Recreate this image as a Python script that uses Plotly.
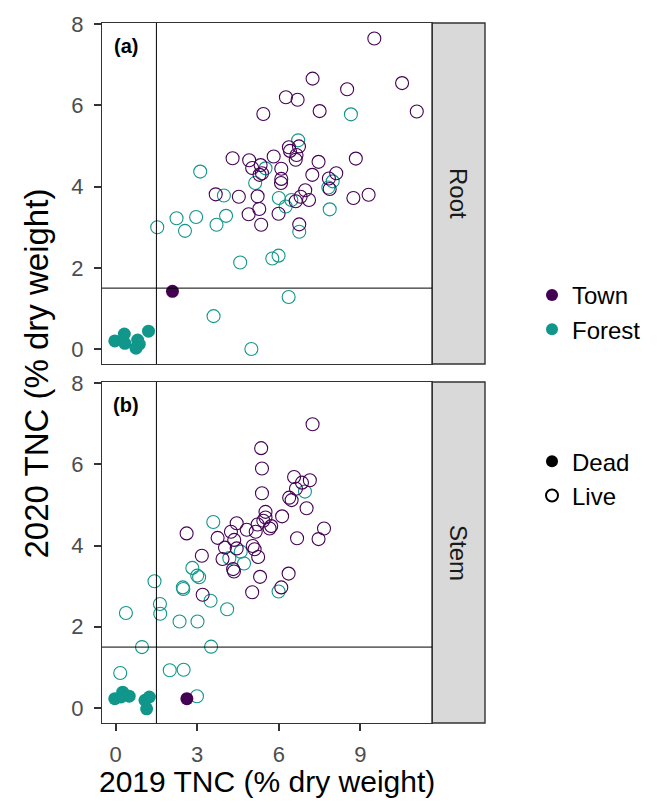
import plotly.graph_objects as go
from plotly.subplots import make_subplots

# ---------------- data ----------------
panels = ["Root", "Stem"]
panel_tags = ["(a)", "(b)"]
x_ticks = [0, 3, 6, 9]
y_ticks = [0, 2, 4, 6, 8]

# Root panel
root_town_live_x = [9.51, 7.24, 10.53, 8.51, 6.26, 6.69, 5.43, 7.50, 11.07, 6.37, 6.74, 6.41, 6.65, 6.62,
                    4.30, 4.91, 5.81, 5.33, 5.02, 5.38, 5.29, 6.09, 6.09, 7.46, 8.83, 7.23, 8.11, 7.84,
                    6.08, 3.68, 4.53, 5.22, 6.62, 6.80, 6.97, 7.11, 5.28, 4.89, 5.99, 8.74, 9.30, 7.87,
                    5.35, 6.75]
root_town_live_y = [7.65, 6.66, 6.55, 6.40, 6.20, 6.14, 5.79, 5.86, 5.85, 4.97, 4.99, 4.88, 4.78, 4.66,
                    4.70, 4.65, 4.74, 4.53, 4.46, 4.33, 4.29, 4.44, 4.19, 4.61, 4.69, 4.29, 4.33, 4.20,
                    4.09, 3.81, 3.75, 3.76, 3.64, 3.75, 3.91, 3.67, 3.45, 3.32, 3.33, 3.72, 3.80, 3.94,
                    3.06, 3.07]
root_forest_live_x = [8.65, 6.71, 5.51, 3.11, 7.98, 5.13, 7.82, 3.98, 6.00, 6.46, 6.25, 7.87, 2.24, 2.96,
                      4.06, 1.53, 2.55, 3.71, 6.75, 4.58, 5.76, 5.99, 6.36, 3.60, 4.99]
root_forest_live_y = [5.78, 5.14, 4.45, 4.37, 4.13, 4.09, 3.98, 3.78, 3.72, 3.67, 3.51, 3.44, 3.22, 3.25,
                      3.28, 3.00, 2.91, 3.06, 2.89, 2.13, 2.23, 2.30, 1.28, 0.81, 0.00]
root_town_dead_x = [2.09]
root_town_dead_y = [1.42]
root_forest_dead_x = [-0.03, 0.32, 0.34, 0.81, 0.87, 0.75, 1.21]
root_forest_dead_y = [0.20, 0.37, 0.14, 0.22, 0.12, 0.02, 0.44]

# Stem panel
stem_town_live_x = [7.24, 5.35, 5.38, 6.56, 7.14, 6.85, 6.63, 5.38, 6.38, 6.47, 7.02, 5.51, 6.12, 5.51,
                    5.43, 5.22, 5.72, 5.66, 4.45, 4.82, 5.15, 2.61, 4.24, 3.75, 4.36, 7.66, 7.46, 6.67,
                    4.02, 4.45, 5.04, 5.11, 3.17, 5.24, 3.93, 4.32, 4.35, 5.31, 6.36, 6.09, 5.02, 3.20]
stem_town_live_y = [6.99, 6.40, 5.90, 5.69, 5.61, 5.55, 5.40, 5.29, 5.18, 5.12, 4.92, 4.83, 4.72, 4.69,
                    4.61, 4.52, 4.48, 4.42, 4.55, 4.39, 4.34, 4.30, 4.34, 4.19, 4.14, 4.42, 4.16, 4.18,
                    3.95, 3.93, 3.99, 3.91, 3.75, 3.72, 3.67, 3.42, 3.36, 3.23, 3.31, 2.97, 2.85, 2.79]
stem_forest_live_x = [6.96, 3.59, 4.60, 4.18, 4.72, 2.82, 3.00, 3.07, 2.47, 2.49, 1.43, 5.99, 3.49, 1.63,
                      1.64, 0.38, 4.10, 2.35, 3.01, 0.97, 3.51, 0.17, 1.99, 2.50, 2.99]
stem_forest_live_y = [5.33, 4.58, 3.85, 3.69, 3.56, 3.45, 3.26, 3.22, 2.97, 2.93, 3.12, 2.87, 2.64, 2.56,
                      2.32, 2.34, 2.43, 2.13, 2.13, 1.50, 1.51, 0.86, 0.93, 0.94, 0.29]
stem_town_dead_x = [2.62]
stem_town_dead_y = [0.23]
stem_forest_dead_x = [-0.03, 0.26, 0.50, 0.20, 1.08, 1.24, 1.14]
stem_forest_dead_y = [0.23, 0.39, 0.29, 0.27, 0.19, 0.27, -0.02]

threshold = 1.5

# ---------------- style ----------------
PURPLE = "#440154"
TEAL = "#10968A"
FONT = "Liberation Sans, Arial, sans-serif"
BORDER = "#333333"

W, H = 671, 805
ML, MR, MT, MB = 102, 239, 20, 82
PW = W - ML - MR
PH = H - MT - MB

fig = make_subplots(rows=2, cols=1, vertical_spacing=18 / PH)

panel_data = [
    (root_forest_live_x, root_forest_live_y, root_town_live_x, root_town_live_y,
     root_forest_dead_x, root_forest_dead_y, root_town_dead_x, root_town_dead_y),
    (stem_forest_live_x, stem_forest_live_y, stem_town_live_x, stem_town_live_y,
     stem_forest_dead_x, stem_forest_dead_y, stem_town_dead_x, stem_town_dead_y),
]

for i, d in enumerate(panel_data):
    row = i + 1
    fl_x, fl_y, tl_x, tl_y, fd_x, fd_y, td_x, td_y = d
    fig.add_trace(go.Scatter(x=fl_x, y=fl_y, mode="markers", showlegend=False,
                             marker=dict(symbol="circle-open", size=13, color=TEAL,
                                         line=dict(width=1.1, color=TEAL))), row=row, col=1)
    fig.add_trace(go.Scatter(x=tl_x, y=tl_y, mode="markers", showlegend=False,
                             marker=dict(symbol="circle-open", size=13, color=PURPLE,
                                         line=dict(width=1.1, color=PURPLE))), row=row, col=1)
    fig.add_trace(go.Scatter(x=fd_x, y=fd_y, mode="markers", showlegend=False,
                             marker=dict(symbol="circle", size=13, color=TEAL,
                                         line=dict(width=0))), row=row, col=1)
    fig.add_trace(go.Scatter(x=td_x, y=td_y, mode="markers", showlegend=False,
                             marker=dict(symbol="circle", size=13, color=PURPLE,
                                         line=dict(width=0))), row=row, col=1)

# legend entries
fig.add_trace(go.Scatter(x=[None], y=[None], mode="markers", name="Town", legend="legend",
                         marker=dict(symbol="circle", size=12, color=PURPLE)))
fig.add_trace(go.Scatter(x=[None], y=[None], mode="markers", name="Forest", legend="legend",
                         marker=dict(symbol="circle", size=12, color=TEAL)))
fig.add_trace(go.Scatter(x=[None], y=[None], mode="markers", name="Dead", legend="legend2",
                         marker=dict(symbol="circle", size=12, color="black")))
fig.add_trace(go.Scatter(x=[None], y=[None], mode="markers", name="Live", legend="legend2",
                         marker=dict(symbol="circle-open", size=12, color="black",
                                     line=dict(width=1, color="black"))))

axis_common = dict(showgrid=False, zeroline=False, showline=True, mirror=True,
                   linecolor=BORDER, linewidth=1.4,
                   tickfont=dict(family=FONT, size=22, color="#4D4D4D"))

fig.update_xaxes(range=[-0.5, 11.63], tickvals=x_ticks, **axis_common)
fig.update_xaxes(showticklabels=False, ticks="", row=1, col=1)
fig.update_xaxes(ticks="outside", ticklen=7, tickwidth=2, tickcolor=BORDER,
                 ticklabelstandoff=4, row=2, col=1)
fig.update_yaxes(range=[-0.37, 8.03], tickvals=y_ticks, ticks="outside", ticklen=7,
                 tickwidth=2, tickcolor=BORDER, ticklabelstandoff=6, **axis_common)

strip_x1 = 1 + 53 / PW
for i, name in enumerate(panels):
    yref = "y domain" if i == 0 else "y2 domain"
    xref = "x" if i == 0 else "x2"
    xdom = "x domain" if i == 0 else "x2 domain"
    fig.add_shape(type="rect", xref="paper", yref=yref, x0=1.0, x1=strip_x1, y0=0, y1=1,
                  fillcolor="#D9D9D9", line=dict(color=BORDER, width=1.4), layer="below")
    fig.add_annotation(text=name, xref="paper", yref=yref, x=(1 + strip_x1) / 2, y=0.5,
                       textangle=90, showarrow=False, xanchor="center", yanchor="middle",
                       font=dict(family=FONT, size=24, color="#1A1A1A"))
    fig.add_annotation(text="<b>" + panel_tags[i] + "</b>", xref=xdom, yref=yref,
                       x=24 / PW, y=1 - 23 / 342, showarrow=False,
                       xanchor="center", yanchor="middle",
                       font=dict(family=FONT, size=20, color="black"))
    fig.add_shape(type="line", xref=xref, yref=yref, x0=threshold, x1=threshold, y0=0, y1=1,
                  line=dict(color="black", width=1))
    fig.add_shape(type="line", xref=xdom, yref=yref.replace(" domain", ""), x0=0, x1=1,
                  y0=threshold, y1=threshold, line=dict(color="black", width=1))

# axis titles
fig.add_annotation(text="2019 TNC (% dry weight)", xref="paper", yref="paper",
                   x=0.5, y=-(782 - (H - MB)) / PH, xanchor="center", yanchor="middle",
                   showarrow=False, font=dict(family=FONT, size=30, color="black"))
fig.add_annotation(text="2020 TNC (% dry weight)", xref="paper", yref="paper",
                   x=-(102 - 36) / PW, y=(H - MB - 372) / PH, textangle=-90,
                   xanchor="center", yanchor="middle", showarrow=False,
                   font=dict(family=FONT, size=33, color="black"))

legend_common = dict(font=dict(family=FONT, size=24, color="black"), bgcolor="rgba(0,0,0,0)",
                     xanchor="left", yanchor="top", itemsizing="constant", tracegroupgap=0)
fig.update_layout(
    width=W, height=H,
    margin=dict(l=ML, r=MR, t=MT, b=MB),
    paper_bgcolor="white", plot_bgcolor="white",
    legend=dict(x=(532 - ML) / PW, y=(H - MB - 271) / PH, **legend_common),
    legend2=dict(x=(532 - ML) / PW, y=(H - MB - 438) / PH, **legend_common),
)

fig.write_html("out.html")
